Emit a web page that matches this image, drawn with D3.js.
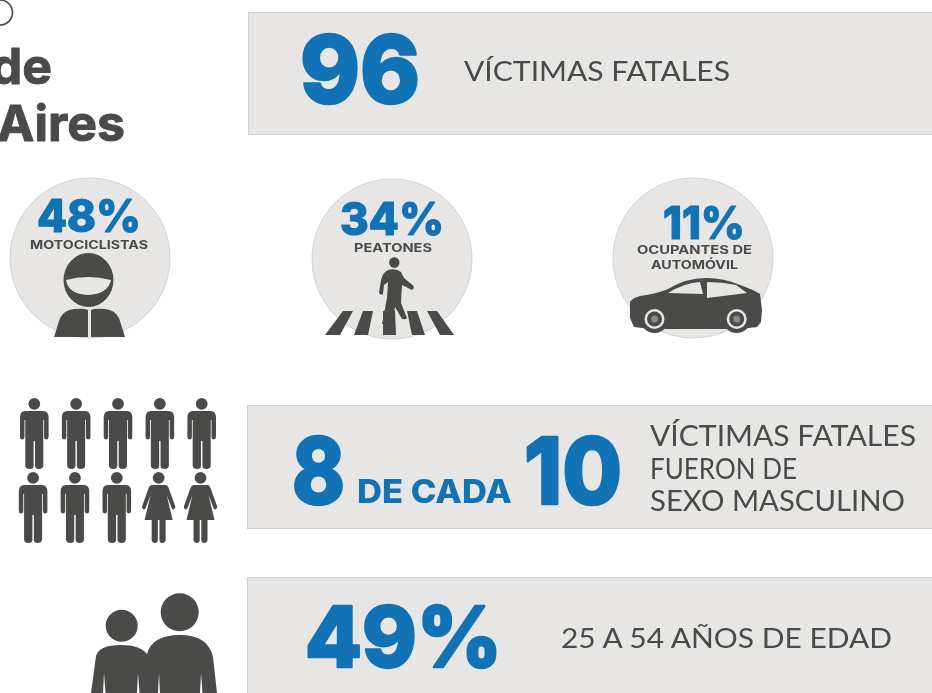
<!DOCTYPE html>
<html lang="es"><head><meta charset="utf-8">
<script src="https://cdn.jsdelivr.net/npm/d3@7/dist/d3.min.js"></script>
<style>html,body{margin:0;padding:0;background:#fff;overflow:hidden}svg{display:block;filter:blur(.4px)}</style>
</head><body><svg id="c" width="932" height="693"></svg>
<script>
// ---- data ----
const totalVictims = 96;
const totalLabel = "VÍCTIMAS FATALES";
const shareCategories = ["MOTOCICLISTAS", "PEATONES", "OCUPANTES DE AUTOMÓVIL"];
const shareValues = [48, 34, 11];
const sexOf10 = ["m","m","m","m","m","m","m","m","f","f"];
const sexLabel = ["VÍCTIMAS FATALES", "FUERON DE", "SEXO MASCULINO"];
const ageValue = 49;
const ageLabel = "25 A 54 AÑOS DE EDAD";
const titleLines = ["de", "Aires"];

const BLUE="#1272b6", DARK="#4a4a49", PANEL="#e7e6e5", EDGE="#d2d1d0", HEAVY="Inter, 'Liberation Sans', sans-serif", LIGHT="Lato, Inter, sans-serif";
const svg=d3.select("#c");

function txt(g,s,x0,x1,base,size,weight,fill,family,sw){
  const t=g.append("text").attr("x",x0).attr("y",base).attr("textLength",x1-x0).attr("lengthAdjust","spacingAndGlyphs")
    .attr("font-family",family||HEAVY).attr("font-size",size).attr("font-weight",weight).attr("fill",fill).text(s);
  if(sw) t.attr("stroke",fill).attr("stroke-width",sw).attr("stroke-linejoin","round");
  return t;
}
// title fragment
svg.append("circle").attr("cx",0).attr("cy",12.5).attr("r",12.5).attr("fill","none").attr("stroke",DARK).attr("stroke-width",1.6);
const rightEnd=d3.scaleOrdinal().domain(titleLines).range([52,125]);
const titleBase=d3.scaleOrdinal().domain(titleLines).range([84,141]);
svg.selectAll(".title").data(titleLines).join("text").attr("class","title")
  .attr("x",d=>rightEnd(d)).attr("y",d=>titleBase(d)).attr("text-anchor","end")
  .attr("font-family",HEAVY).attr("font-size",50).attr("font-weight",700).attr("fill",DARK)
  .attr("stroke",DARK).attr("stroke-width",1).attr("stroke-linejoin","round").text(d=>d);

// panels
[[248,12,122],[247,405,123],[247,577,130]].forEach(([x,y,h])=>
  svg.append("rect").attr("x",x+.5).attr("y",y+.5).attr("width",700).attr("height",h).attr("fill",PANEL).attr("stroke",EDGE));

// panel 1
txt(svg,String(totalVictims),300,420,103,93,800,BLUE,HEAVY,2.5);
txt(svg,totalLabel,464,730,81,27,400,DARK,LIGHT);

// panel 2
const [n8,n10]=[sexOf10.filter(d=>d==="m").length,sexOf10.length];
txt(svg,String(n8),292,345,503.5,92,800,BLUE,HEAVY,2.5);
txt(svg,"DE CADA",357,512,503,33,800,BLUE);
txt(svg,String(n10),524,622,503.5,92,800,BLUE,HEAVY,2.5);
const sy=d3.scalePoint().domain(sexLabel).range([446,511]);
sexLabel.forEach(l=>{
  const w={"VÍCTIMAS FATALES":266,"FUERON DE":147,"SEXO MASCULINO":255}[l];
  txt(svg,l,650,650+w,sy(l),28,400,DARK,LIGHT);
});

// panel 3
txt(svg,ageValue+"%",305,502,667,84,800,BLUE,HEAVY,2.5);
txt(svg,ageLabel,561,892,648,27,400,DARK,LIGHT);

// share circles
const cx=d3.scaleOrdinal().domain(shareCategories).range([90,392,693]);
const cy=d3.scaleOrdinal().domain(shareCategories).range([258,259,258]);
svg.selectAll(".disc").data(shareCategories).join("circle").attr("class","disc")
  .attr("cx",d=>cx(d)).attr("cy",d=>cy(d)).attr("r",80).attr("fill",PANEL).attr("stroke",EDGE);
const pctBox=[[37,141,232],[340,444,234.5],[663,745,238.5]];
shareValues.forEach((v,i)=>txt(svg,v+"%",pctBox[i][0],pctBox[i][1],pctBox[i][2],45,800,BLUE,HEAVY,1.2));
txt(svg,shareCategories[0],30,148,249,11.5,700,DARK);
txt(svg,shareCategories[1],354,432,252,11.5,700,DARK);
txt(svg,"OCUPANTES DE",637,752,254,11.5,700,DARK);
txt(svg,"AUTOMÓVIL",651,738,269,11.5,700,DARK);

// rider
svg.append("ellipse").attr("cx",88.5).attr("cy",280).attr("rx",25).attr("ry",27).attr("fill",DARK);
svg.append("path").attr("fill",PANEL).attr("d","M66 280Q88 274 111 280Q108 294 88 295Q68 294 66 280Z");
svg.append("path").attr("fill",DARK).attr("d","M54 337L60 318Q64 310 74 309Q84 308 88 310V337ZM91 310Q95 308 105 309Q115 310 119 318L125 337H91Z");

// pedestrian crossing
svg.append("path").attr("fill",DARK).attr("d",
 "M343 311H353L340 335H325Z M363 311H373L368 335H354Z M383 311H395L396 335H383Z M407 311H417L425 335H412Z M427 311H437L454 335H440Z");
svg.append("circle").attr("cx",394.3).attr("cy",262.5).attr("r",5.2).attr("fill",DARK);
svg.append("path").attr("fill",DARK).attr("d",
 "M388 270Q396 268 401 272L404 278L413 285.5Q415 288 412 290L402 285L401 303L407 318Q406 320 402 319L395 307L393 324H382L387 298L388 282L384 285L383 294Q381 296 379 293L381 280Q383 272 388 270Z");

// car
svg.append("path").attr("fill",DARK).attr("d",
 "M630 302Q632 298 640 296Q656 294 668 289Q686 278 706 278Q724 278 740 285Q754 290 760 294L762 310L761 322L757 327L740 329H650L634 327L630 318Z");
svg.append("path").attr("fill",PANEL).attr("d","M668 293Q684 283 700 282L703 294Z M707 282Q722 282 736 285L747 293L707 298Z");
[654.5,736.7].forEach(x=>{
  svg.append("circle").attr("cx",x).attr("cy",319).attr("r",14).attr("fill",DARK);
  svg.append("circle").attr("cx",x).attr("cy",319).attr("r",10).attr("fill",PANEL);
  svg.append("circle").attr("cx",x).attr("cy",319).attr("r",7.5).attr("fill",DARK);
  svg.append("circle").attr("cx",x).attr("cy",319).attr("r",3.5).attr("fill","#8a8a89");
});

// 10 pictograms
const man="M-9 13H9Q14 13 14.3 19V39Q14 41.5 12 41.5Q10 41.5 9.8 39V22H9V43.5V68Q8.5 71 4.5 71Q.9 71 .7 68V43H-.7V68Q-.9 71-4.5 71Q-8.5 71-9 68V43.5V22H-9.8V39Q-10 41.5-12 41.5Q-14 41.5-14.3 39V19Q-14 13-9 13Z";
const woman="M-6.5 13H6.5Q9 13 10 16L16.5 34Q17 37 15 37.5Q13.5 37.5 13 36L8 23L14 48H7V68Q6.5 71 3.7 71Q1 71 .8 68V48H-.8V68Q-1 71-3.7 71Q-6.5 71-7 68V48H-14L-8 23L-13 36Q-13.5 37.5-15 37.5Q-17 37-16.5 34L-10 16Q-9 13-6.5 13Z";
const col=d3.scalePoint().domain(d3.range(5)).range([34.3,201.7]);
const row=d3.scalePoint().domain([0,1]).range([398,472]);
svg.selectAll(".person").data(sexOf10).join("g").attr("class","person")
  .attr("transform",(d,i)=>{const r=Math.floor(i/5);return `translate(${col(i%5)-r*1.2},${row(r)})`;})
  .each(function(d){const g=d3.select(this);
    g.append("circle").attr("cy",5.8).attr("r",5.9).attr("fill",DARK);
    g.append("path").attr("d",d==="m"?man:woman).attr("fill",DARK);});

// adults
svg.append("circle").attr("cx",121.7).attr("cy",625.7).attr("r",16).attr("fill",DARK);
svg.append("circle").attr("cx",179.7).attr("cy",612.3).attr("r",19).attr("fill",DARK);
svg.append("path").attr("fill",DARK).attr("d",
 "M91 693L96 656Q99 645 121 645Q140 645 147 654Q152 635 180 635Q208 635 213 657L217 693H202.5L201 673L200 693H160L159 673L158 693H139.5L138 673L137 693H105.5L104 673L103 693Z");
</script></body></html>
